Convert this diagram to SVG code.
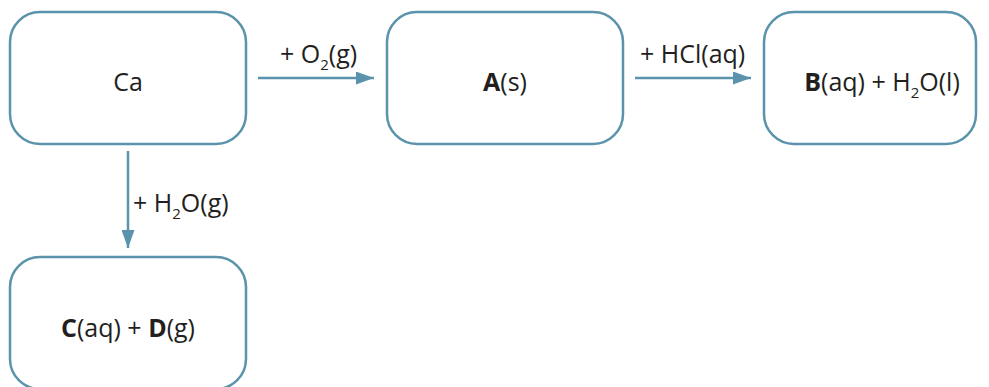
<svg xmlns="http://www.w3.org/2000/svg" width="989" height="387" viewBox="0 0 989 387">
<style>
.box{fill:#fff;stroke:#5a93ab;stroke-width:2.5}
.t{font-family:"Open Sans","Noto Sans",sans-serif;font-size:25px;fill:#231f20}
.b{font-weight:bold}
.sub{font-size:15px}
.ln{stroke:#5a93ab;stroke-width:2.5;fill:none}
</style>
<defs>
<marker id="ah" markerWidth="18" markerHeight="13" refX="18" refY="6.5" orient="auto" markerUnits="userSpaceOnUse">
<path d="M0,0 L18,6.5 L0,13 Z" fill="#5a93ab"/>
</marker>
</defs>
<rect width="989" height="387" fill="#fff"/>
<g id="connectors">
<line class="ln" x1="258" y1="78" x2="374" y2="78" marker-end="url(#ah)"/>
<line class="ln" x1="635" y1="78" x2="751" y2="78" marker-end="url(#ah)"/>
<line class="ln" x1="128" y1="151" x2="128" y2="248" marker-end="url(#ah)"/>
<text class="t" x="280" y="63">+ O<tspan class="sub" dy="7">2</tspan><tspan dy="-7">(g)</tspan></text>
<text class="t" x="640" y="63">+ HCl(aq)</text>
<text class="t" x="133" y="212">+ H<tspan class="sub" dy="7">2</tspan><tspan dy="-7">O(g)</tspan></text>
</g>
<g id="node-ca">
<rect class="box" x="10" y="12" width="236" height="132" rx="30"/>
<text class="t" x="128" y="91" text-anchor="middle">Ca</text>
</g>
<g id="node-a">
<rect class="box" x="387" y="12" width="236" height="132" rx="30"/>
<text class="t" x="505" y="91" text-anchor="middle"><tspan class="b">A</tspan>(s)</text>
</g>
<g id="node-b">
<rect class="box" x="764" y="12" width="212" height="132" rx="30"/>
<text class="t" x="882" y="91" text-anchor="middle"><tspan class="b">B</tspan>(aq) + H<tspan class="sub" dy="7">2</tspan><tspan dy="-7">O(l)</tspan></text>
</g>
<g id="node-cd">
<rect class="box" x="10" y="257" width="236" height="132" rx="30"/>
<text class="t" x="128" y="337" text-anchor="middle"><tspan class="b">C</tspan>(aq) + <tspan class="b">D</tspan>(g)</text>
</g>
</svg>
